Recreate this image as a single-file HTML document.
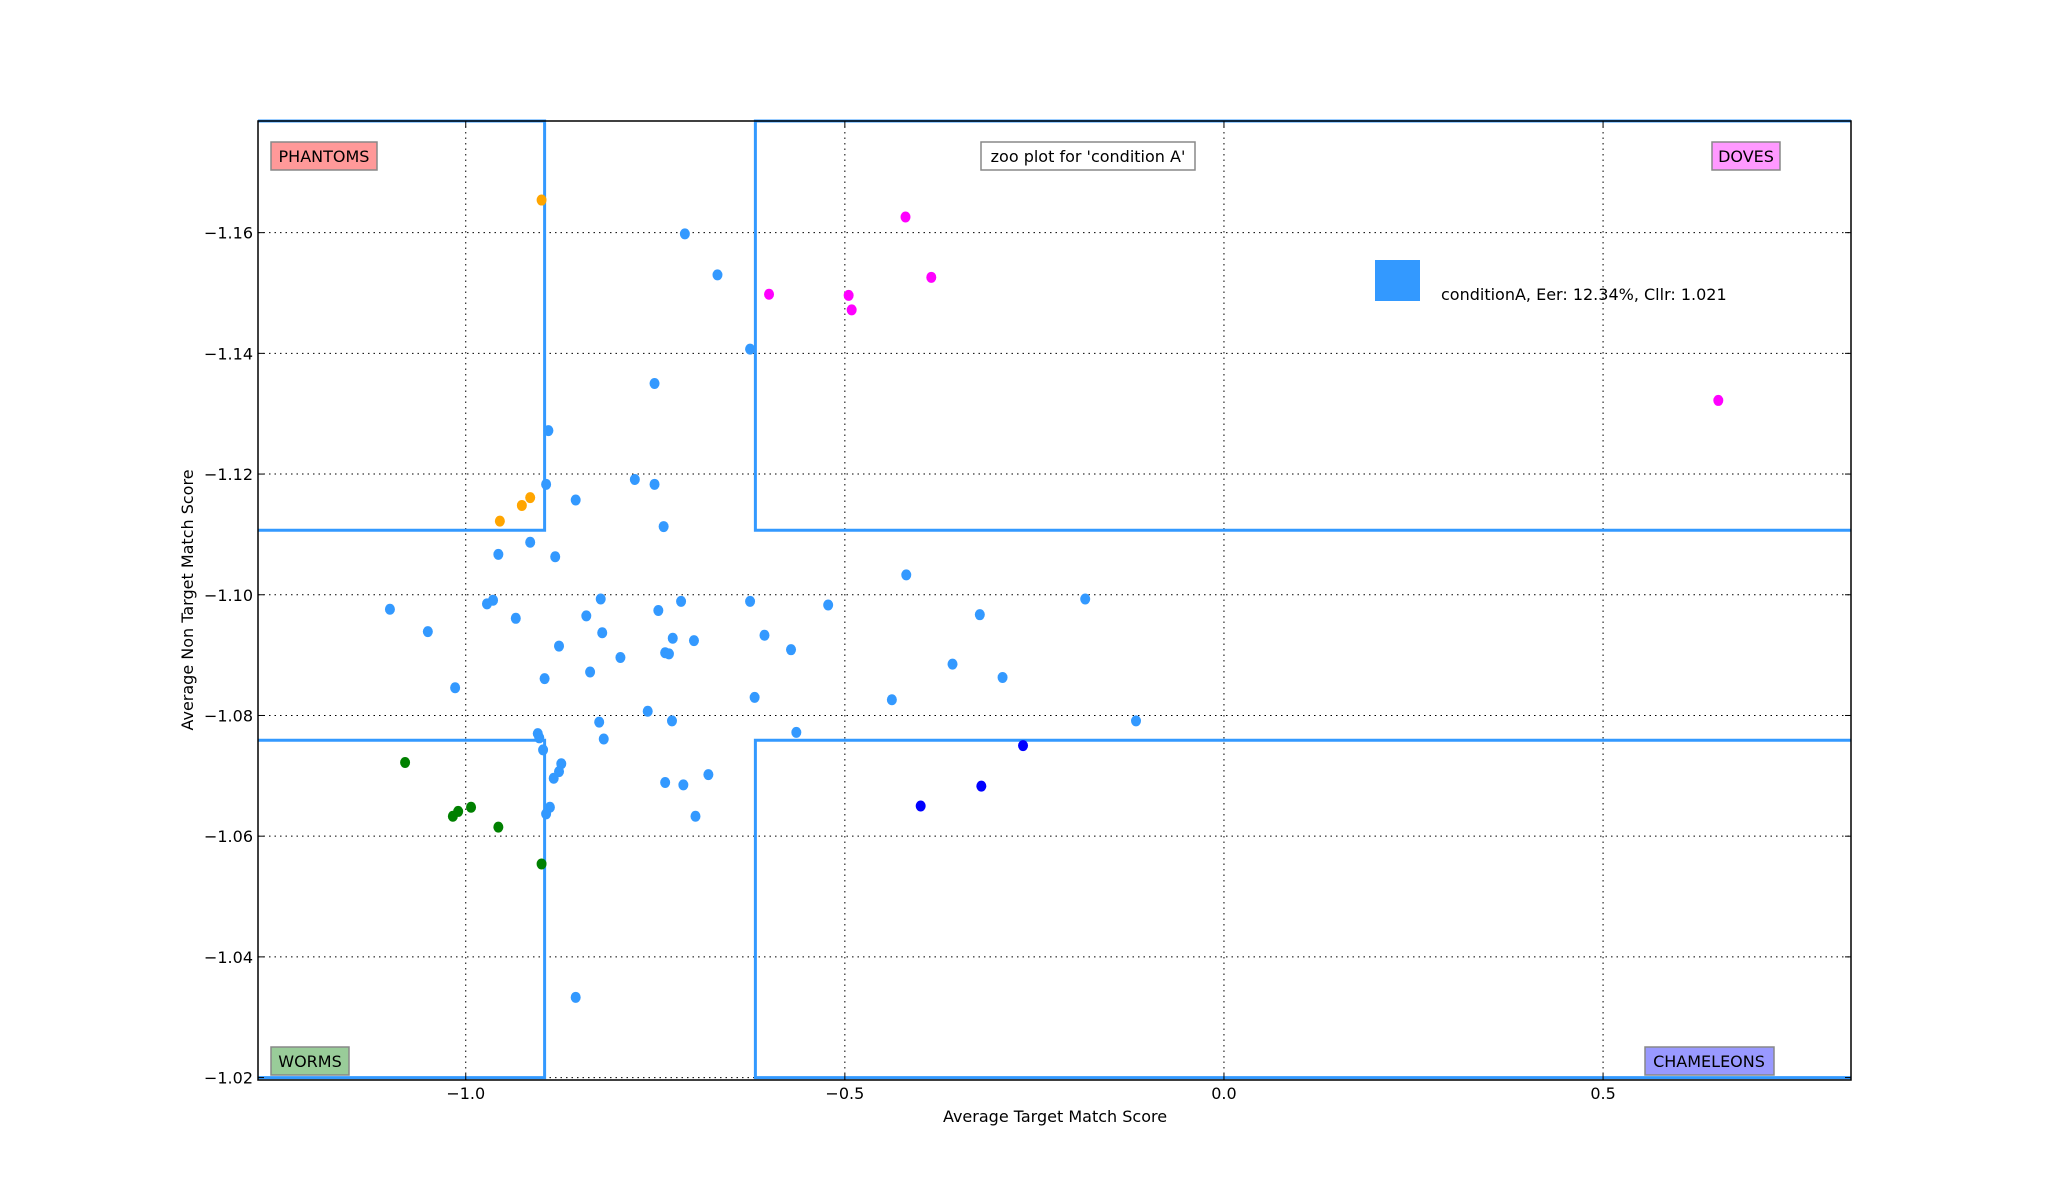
<!DOCTYPE html>
<html><head><meta charset="utf-8"><style>
html,body{margin:0;padding:0;background:#fff;}
svg{display:block;font-family:"DejaVu Sans","Liberation Sans",sans-serif;}
</style></head><body>
<svg id="chart" width="2056" height="1201" viewBox="0 0 2056 1201" xmlns="http://www.w3.org/2000/svg">
<rect x="0" y="0" width="2056" height="1201" fill="#fff"/>
<g id="grid"></g>
<g id="regions"></g>
<g id="points"></g>
<rect x="258" y="121" width="1593" height="959" fill="none" stroke="#000" stroke-width="1.5"/>
<g id="ticks"></g>
<g><rect x="271" y="142" width="106" height="28" fill="#ff9999" stroke="#888" stroke-width="1.5"/><text x="324" y="162" text-anchor="middle" font-size="16">PHANTOMS</text></g>
<g><rect x="1712" y="142" width="68" height="28" fill="#ff99ff" stroke="#888" stroke-width="1.5"/><text x="1746" y="162" text-anchor="middle" font-size="16">DOVES</text></g>
<g><rect x="981" y="142" width="214" height="28" fill="#fff" stroke="#888" stroke-width="1.5"/><text x="1088" y="162" text-anchor="middle" font-size="16">zoo plot for 'condition A'</text></g>
<g><rect x="271" y="1047" width="78" height="28" fill="#99cc99" stroke="#888" stroke-width="1.5"/><text x="310" y="1067" text-anchor="middle" font-size="16">WORMS</text></g>
<g><rect x="1645" y="1047" width="129" height="28" fill="#9999ff" stroke="#888" stroke-width="1.5"/><text x="1709" y="1067" text-anchor="middle" font-size="16">CHAMELEONS</text></g>
<g><rect x="1375" y="260" width="45" height="41" fill="#3399ff"/><text x="1441" y="300" font-size="16">conditionA, Eer: 12.34%, Cllr: 1.021</text></g>
<text x="1055" y="1122" text-anchor="middle" font-size="16">Average Target Match Score</text>
<text x="0" y="0" transform="translate(193,600) rotate(-90)" text-anchor="middle" font-size="16">Average Non Target Match Score</text>
</svg>
<script>
const xTicks = [-1.0, -0.5, 0.0, 0.5];
const xTickLabels = ["\u22121.0", "\u22120.5", "0.0", "0.5"];
const yTicks = [-1.16, -1.14, -1.12, -1.10, -1.08, -1.06, -1.04, -1.02];
const yTickLabels = ["\u22121.16", "\u22121.14", "\u22121.12", "\u22121.10", "\u22121.08", "\u22121.06", "\u22121.04", "\u22121.02"];
const xBounds = [-0.896, -0.618];
const yBounds = [-1.1107, -1.0759];
const orangeX = [-0.900, -0.955, -0.926, -0.915];
const orangeY = [-1.1654, -1.1122, -1.1148, -1.1161];
const magentaX = [-0.420, -0.386, -0.600, -0.495, -0.491, 0.652];
const magentaY = [-1.1626, -1.1526, -1.1498, -1.1496, -1.1472, -1.1322];
const darkBlueX = [-0.265, -0.320, -0.400];
const darkBlueY = [-1.0750, -1.0683, -1.0650];
const greenX = [-1.080, -0.993, -1.010, -1.017, -0.957, -0.900];
const greenY = [-1.0722, -1.0648, -1.0641, -1.0633, -1.0615, -1.0554];
const blueX = [-0.711,-0.668,-0.625,-0.751,-0.891,-0.777,-0.751,-0.894,-0.855,-0.739,-0.915,-0.957,-0.882,-0.419,-1.100,-0.964,-0.972,-0.822,-0.716,-0.625,-0.522,-0.183,-0.322,-0.934,-0.746,-0.841,-1.050,-0.820,-0.606,-0.727,-0.699,-0.877,-0.571,-0.737,-0.732,-0.796,-0.358,-0.836,-0.292,-0.896,-1.014,-0.619,-0.438,-0.760,-0.824,-0.728,-0.116,-0.905,-0.903,-0.564,-0.818,-0.898,-0.874,-0.877,-0.884,-0.680,-0.737,-0.713,-0.889,-0.894,-0.697,-0.855];
const blueY = [-1.1598,-1.1530,-1.1407,-1.1350,-1.1272,-1.1191,-1.1183,-1.1183,-1.1157,-1.1113,-1.1087,-1.1067,-1.1063,-1.1033,-1.0976,-1.0991,-1.0985,-1.0993,-1.0989,-1.0989,-1.0983,-1.0993,-1.0967,-1.0961,-1.0974,-1.0965,-1.0939,-1.0937,-1.0933,-1.0928,-1.0924,-1.0915,-1.0909,-1.0904,-1.0902,-1.0896,-1.0885,-1.0872,-1.0863,-1.0861,-1.0846,-1.0830,-1.0826,-1.0807,-1.0789,-1.0791,-1.0791,-1.0770,-1.0763,-1.0772,-1.0761,-1.0743,-1.0720,-1.0707,-1.0696,-1.0702,-1.0689,-1.0685,-1.0648,-1.0637,-1.0633,-1.0333];

const L=258,R=1851,T=121,B=1080;
const xMin=-1.274,xMax=0.827,yTop=-1.1785,yBot=-1.0196;
const xs=v=>L+(v-xMin)/(xMax-xMin)*(R-L);
const ys=v=>T+(v-yTop)/(yBot-yTop)*(B-T);
const NS="http://www.w3.org/2000/svg";
function mk(parent,tag,attrs){const e=document.createElementNS(NS,tag);for(const k in attrs)e.setAttribute(k,attrs[k]);parent.appendChild(e);return e;}
const grid=document.getElementById('grid'),ticks=document.getElementById('ticks');
xTicks.forEach((v,i)=>{
  const x=xs(v);
  const g=mk(grid,'line',{x1:x,x2:x,y1:T,y2:B,stroke:'#000','stroke-width':1,'stroke-dasharray':'1.5,4'});
  
  
  mk(ticks,'line',{x1:x,x2:x,y1:B,y2:B-6,stroke:'#000','stroke-width':1});
  mk(ticks,'line',{x1:x,x2:x,y1:T,y2:T+6,stroke:'#000','stroke-width':1});
  const t=mk(ticks,'text',{x:x,y:B+19,'text-anchor':'middle','font-size':16});
  t.textContent=xTickLabels[i];
  
  
});
yTicks.forEach((v,i)=>{
  const y=ys(v);
  const g=mk(grid,'line',{x1:L,x2:R,y1:y,y2:y,stroke:'#000','stroke-width':1,'stroke-dasharray':'1.5,4'});
  
  
  mk(ticks,'line',{x1:L,x2:L+6,y1:y,y2:y,stroke:'#000','stroke-width':1});
  mk(ticks,'line',{x1:R,x2:R-6,y1:y,y2:y,stroke:'#000','stroke-width':1});
  const t=mk(ticks,'text',{x:L-5,y:y+6,'text-anchor':'end','font-size':16});
  t.textContent=yTickLabels[i];
  
  
});
const reg=document.getElementById('regions');
const bx0=xs(xBounds[0]),bx1=xs(xBounds[1]),by0=ys(yBounds[0]),by1=ys(yBounds[1]),yb=ys(-1.02);
const paths=[
 `M${L},${T} L${bx0},${T} L${bx0},${by0} L${L},${by0}`,
 `M${R},${T} L${bx1},${T} L${bx1},${by0} L${R},${by0}`,
 `M${L},${by1} L${bx0},${by1} L${bx0},${yb} L${L},${yb}`,
 `M${R},${by1} L${bx1},${by1} L${bx1},${yb} L${R},${yb}`
];
paths.forEach(d=>{
  const p=mk(reg,'path',{d:d,fill:'none',stroke:'#3399ff','stroke-width':3});
  
  
});
const pts=document.getElementById('points');
function series(X,Y,color,name){
  X.forEach((v,i)=>{
    const c=mk(pts,'ellipse',{cx:xs(v),cy:ys(Y[i]),rx:5,ry:5.5,fill:color});
    
    
  });
}
series(blueX,blueY,'#3399ff','speaker-point');
series(orangeX,orangeY,'#ffa500','phantom-point');
series(magentaX,magentaY,'#ff00ff','dove-point');
series(darkBlueX,darkBlueY,'#0000ff','chameleon-point');
series(greenX,greenY,'#008000','worm-point');
</script>
</body></html>
